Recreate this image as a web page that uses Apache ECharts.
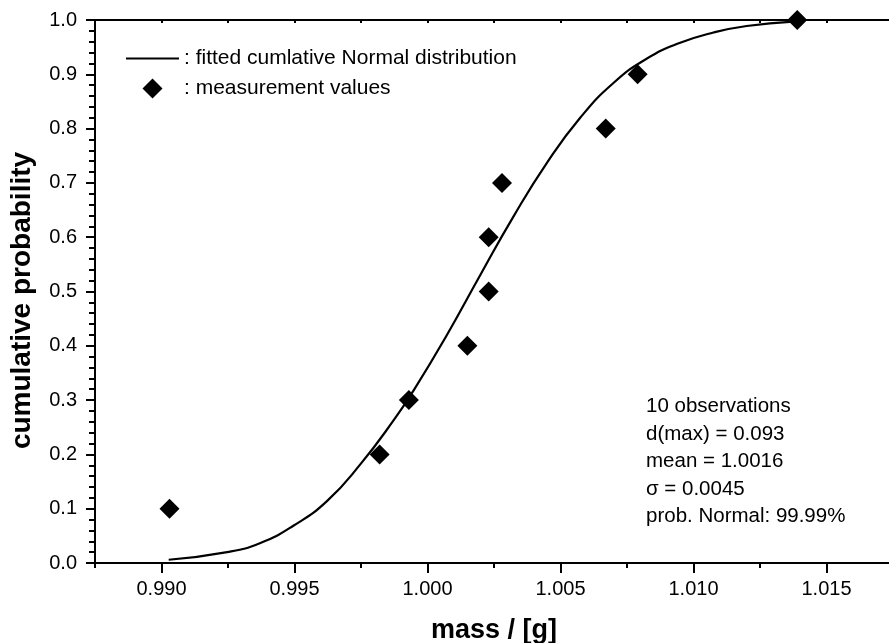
<!DOCTYPE html>
<html>
<head>
<meta charset="utf-8">
<title>cumulative probability of mass</title>
<script src="https://cdn.jsdelivr.net/npm/echarts@6/dist/echarts.min.js"></script>
<style>
  html, body { margin: 0; padding: 0; background: #ffffff; }
  #chart { width: 889px; height: 643px; }
</style>
</head>
<body>
<div id="chart"></div>
<script>
// Measured masses and their cumulative ranks
const massObs = [0.9903, 0.9982, 0.9993, 1.0015, 1.0023, 1.0023, 1.0028, 1.0067, 1.0079, 1.0139];
const probObs = [0.1, 0.2, 0.3, 0.4, 0.5, 0.6, 0.7, 0.8, 0.9, 1.0];

// Fitted cumulative Normal curve, sampled along its path
const fitMass = [0.99027, 0.99247, 0.99372, 0.99497, 0.99622, 0.99748, 0.99873, 0.99948, 1.00073,
                 1.00198, 1.00323, 1.00449, 1.00574, 1.00699, 1.00825, 1.0095, 1.01075, 1.0120, 1.01375];
const fitProb = [0.006, 0.020, 0.037, 0.069, 0.114, 0.182, 0.263, 0.318, 0.420,
                 0.530, 0.638, 0.737, 0.820, 0.884, 0.929, 0.958, 0.977, 0.989, 0.997];

// Tick labels
const xTickLabels = ['0.990', '0.995', '1.000', '1.005', '1.010', '1.015'];
const yTickLabels = ['0.0', '0.1', '0.2', '0.3', '0.4', '0.5', '0.6', '0.7', '0.8', '0.9', '1.0'];

// Summary statistics block
const statsLines = ['10 observations', 'd(max) = 0.093', 'mean = 1.0016', '\u03c3 = 0.0045', 'prob. Normal: 99.99%'];

const legendNames = [': fitted cumlative Normal distribution', ': measurement values'];

const FONT = '"Liberation Sans", Arial, Helvetica, sans-serif';
const X_MIN = 0.9875, X_MAX = 1.0175;

// Legend diamond: the leading moves pin the icon box to 53x20 so the diamond stays square
const LEGEND_DIAMOND = 'path://M0,0 M53,20 M16.5,10 L26.5,0 L36.5,10 L26.5,20 Z';

const chart = echarts.init(document.getElementById('chart'), null, { renderer: 'canvas' });

const axisLineStyle = { color: '#000', width: 2 };

const option = {
  backgroundColor: '#ffffff',
  animation: false,
  textStyle: { fontFamily: FONT, color: '#000' },
  grid: { left: 95, right: -4, top: 20, bottom: 80, containLabel: false, outerBoundsMode: 'none' },
  legend: {
    orient: 'vertical',
    left: 125,
    top: 48,
    padding: 0,
    itemWidth: 53,
    itemHeight: 20,
    itemGap: 9,
    selectedMode: false,
    textStyle: { fontFamily: FONT, fontSize: 21, color: '#000' },
    data: [
      { name: legendNames[0], itemStyle: { opacity: 0 } },
      { name: legendNames[1], icon: LEGEND_DIAMOND }
    ]
  },
  xAxis: [
    {
      // main bottom axis: minor ticks every 0.0025, labels on the 0.005 steps
      type: 'value',
      position: 'bottom',
      min: X_MIN,
      max: X_MAX,
      interval: 0.0025,
      name: 'mass / [g]',
      nameLocation: 'middle',
      nameGap: 54,
      nameTextStyle: { fontFamily: FONT, fontSize: 27, fontWeight: 'bold', color: '#000' },
      axisLine: { show: true, lineStyle: axisLineStyle },
      axisTick: { show: true, length: 5, lineStyle: { color: '#000', width: 2 } },
      axisLabel: {
        show: true,
        margin: 16,
        fontFamily: FONT,
        fontSize: 20,
        color: '#000',
        showMinLabel: true,
        showMaxLabel: true,
        formatter: function (v) {
          const s = v.toFixed(3);
          return xTickLabels.indexOf(s) >= 0 && Math.abs(v - parseFloat(s)) < 1e-7 ? s : '';
        }
      },
      splitLine: { show: false }
    },
    {
      // major tick marks on the bottom axis
      type: 'value',
      position: 'bottom',
      min: X_MIN,
      max: X_MAX,
      axisLine: { show: false },
      axisTick: {
        show: true,
        length: 10,
        customValues: xTickLabels.map(Number),
        lineStyle: { color: '#000', width: 2 }
      },
      axisLabel: { show: false },
      splitLine: { show: false }
    },
    {
      // top frame with small inner ticks
      type: 'value',
      position: 'top',
      min: X_MIN,
      max: X_MAX,
      interval: 0.0025,
      axisLine: { show: true, lineStyle: axisLineStyle },
      axisTick: { show: true, inside: true, length: 3, lineStyle: { color: '#000', width: 2 } },
      axisLabel: { show: false },
      splitLine: { show: false }
    }
  ],
  yAxis: {
    type: 'value',
    min: 0,
    max: 1,
    interval: 0.1,
    name: 'cumulative probability',
    nameLocation: 'middle',
    nameGap: 59,
    nameTextStyle: { fontFamily: FONT, fontSize: 28, fontWeight: 'bold', color: '#000', padding: [0, 18, 0, 0] },
    axisLine: { show: true, lineStyle: axisLineStyle },
    axisTick: { show: true, length: 9, lineStyle: { color: '#000', width: 2 } },
    minorTick: { show: true, splitNumber: 5, length: 6, lineStyle: { color: '#000', width: 2 } },
    axisLabel: {
      margin: 18,
      fontFamily: FONT,
      fontSize: 20,
      color: '#000',
      formatter: function (v) {
        return yTickLabels[Math.round(v * 10)];
      }
    },
    splitLine: { show: false },
    minorSplitLine: { show: false }
  },
  graphic: [
    {
      type: 'text',
      left: 646,
      top: 393,
      silent: true,
      style: {
        text: statsLines.join('\n'),
        fontFamily: FONT,
        fontSize: 20.5,
        lineHeight: 27.5,
        fill: '#000'
      }
    }
  ],
  series: [
    {
      name: legendNames[0],
      type: 'line',
      xAxisIndex: 0,
      data: fitMass.map((m, i) => [m, fitProb[i]]),
      smooth: 0.5,
      symbol: 'none',
      showSymbol: false,
      lineStyle: { color: '#000', width: 2.2 },
      itemStyle: { color: '#000' },
      z: 3
    },
    {
      name: legendNames[1],
      type: 'scatter',
      xAxisIndex: 0,
      data: massObs.map((m, i) => [m, probObs[i]]),
      symbol: 'diamond',
      symbolSize: 20,
      itemStyle: { color: '#000', opacity: 1 },
      emphasis: { disabled: true },
      z: 4
    }
  ]
};

chart.setOption(option);
</script>
</body>
</html>
